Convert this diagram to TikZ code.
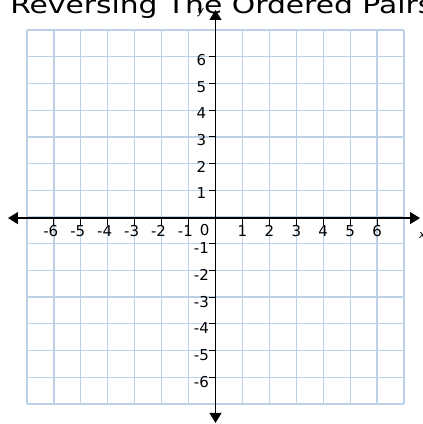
\documentclass[tikz,border=0pt]{standalone}
\usepackage{fontspec}
\setmainfont{DejaVu Sans}
\usetikzlibrary{arrows.meta}
\definecolor{gridblue}{RGB}{188,208,230}
\tikzset{
  gridline/.style={draw=gridblue,line width=1.3pt},
  axisline/.style={draw=black,line width=1.2pt,{Triangle[length=10pt,width=12pt]}-{Triangle[length=10pt,width=12pt]}},
  tickline/.style={draw=black,line width=1.1pt},
  numlabel/.style={font=\fontsize{15}{15}\selectfont,inner sep=0pt},
  titletext/.style={font=\fontsize{24}{24}\selectfont,inner sep=0pt,anchor=base west}
}
\begin{document}
\begin{tikzpicture}[x=26.93pt,y=26.71pt]
\useasboundingbox (-8.002,-7.75) rectangle (7.668,8.124);
% grid
\foreach \i in {-7,...,7} {
  \draw[gridline] (\i,-7) -- (\i,7);
  \draw[gridline] (-7,\i) -- (7,\i);
}
% title
\node[titletext,xscale=1.24] (title) at (-7.63,7.62) {Reversing The Ordered Pairs};
% axes
\coordinate (xl) at (-7.705,-0.04);
\coordinate (xr) at (7.594,-0.04);
\coordinate (yt) at (0,7.75);
\coordinate (yb) at (0,-7.71);
\draw[axisline] (xl) -- (xr);
\draw[axisline] (yb) -- (yt);
% ticks and labels
\foreach \i in {1,...,6} {
  \draw[tickline] (\i,-0.04) -- (\i,-0.3);
  \draw[tickline] (-\i,-0.04) -- (-\i,-0.3);
  \draw[tickline] (0,\i) -- (-0.24,\i);
  \draw[tickline] (0,-\i) -- (-0.24,-\i);
  \node[numlabel,anchor=north] (xp\i) at (\i,-0.32) {\i};
  \node[numlabel,anchor=north east] (xn\i) at (-\i+0.17,-0.32) {-\i};
  \node[numlabel,anchor=east] (yp\i) at (-0.34,\i-0.12) {\i};
  \node[numlabel,anchor=east] (yn\i) at (-0.24,-\i-0.17) {-\i};
}
\node[numlabel] (zero) at (-0.4,-0.48) {0};
\node[font=\fontsize{11}{11}\selectfont\itshape,inner sep=0pt] (ylab) at (-0.55,7.65) {y};
\node[font=\fontsize{11}{11}\selectfont\itshape,inner sep=0pt,anchor=west] (xlab) at (7.55,-0.7) {x};
\end{tikzpicture}
\end{document}
